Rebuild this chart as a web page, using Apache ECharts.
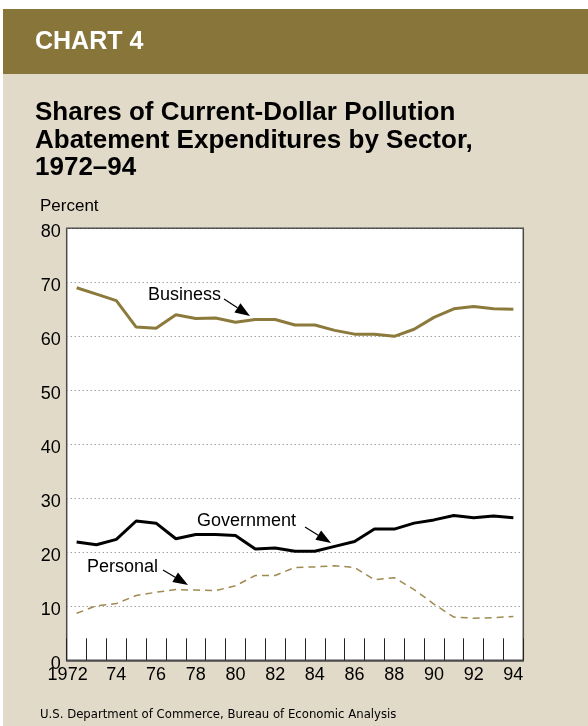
<!DOCTYPE html>
<html>
<head>
<meta charset="utf-8">
<script src="https://cdn.jsdelivr.net/npm/echarts@6/dist/echarts.min.js"></script>
<style>
html,body{margin:0;padding:0;background:#fff;}
#c{width:588px;height:726px;}
</style>
</head>
<body>
<div id="c"></div>
<script>
const years = ['1972','1973','1974','1975','1976','1977','1978','1979','1980','1981','1982','1983','1984','1985','1986','1987','1988','1989','1990','1991','1992','1993','1994'];
const business   = [69.0,67.8,66.6,61.7,61.5,64.0,63.3,63.4,62.6,63.1,63.1,62.1,62.1,61.1,60.4,60.4,60.0,61.3,63.5,65.1,65.5,65.1,65.0];
const government = [21.9,21.4,22.4,25.8,25.4,22.5,23.3,23.3,23.1,20.6,20.8,20.2,20.2,21.1,22.0,24.3,24.3,25.4,26.0,26.8,26.4,26.7,26.4];
const personal   = [8.7,10.1,10.5,12.0,12.6,13.1,13.0,12.9,13.8,15.7,15.7,17.2,17.3,17.5,17.2,14.9,15.3,13.1,10.4,8.0,7.8,7.9,8.1];
const xTickLabels = {'1972':'1972','1974':'74','1976':'76','1978':'78','1980':'80','1982':'82','1984':'84','1986':'86','1988':'88','1990':'90','1992':'92','1994':'94'};
const yTicks = [0,10,20,30,40,50,60,70,80];

const FONT = '"Liberation Sans", Arial, Helvetica, sans-serif';
const NARROW = '"Liberation Sans Narrow", "DejaVu Sans Condensed", "Liberation Sans", sans-serif';

function arrow(x1, y1, x2, y2) {
  const dx = x2 - x1, dy = y2 - y1, L = Math.sqrt(dx*dx + dy*dy);
  const ux = dx / L, uy = dy / L, nx = -uy, ny = ux;
  const hl = 15, hw = 5.5;
  const bx = x2 - hl * ux, by = y2 - hl * uy;
  return [
    {type:'line', shape:{x1:x1, y1:y1, x2:bx, y2:by}, style:{stroke:'#000', lineWidth:1.2}, z:100},
    {type:'polygon', shape:{points:[[x2,y2],[bx+hw*nx,by+hw*ny],[bx-hw*nx,by-hw*ny]]}, style:{fill:'#000'}, z:100}
  ];
}

const chart = echarts.init(document.getElementById('c'), null, {renderer:'canvas'});

const graphics = [
  {type:'rect', shape:{x:3, y:9, width:585, height:65}, style:{fill:'#877539'}, z:-10},
  {type:'rect', shape:{x:3, y:74, width:585, height:652}, style:{fill:'#e1dac9'}, z:-10},
  {type:'text', x:35, y:42.5, style:{text:'CHART 4', fill:'#fff', font:'bold 25px ' + FONT, verticalAlign:'middle'}},
  {type:'text', x:35, y:113, style:{text:'Shares of Current-Dollar Pollution', fill:'#000', font:'bold 26px ' + FONT, verticalAlign:'middle'}},
  {type:'text', x:35, y:140.5, style:{text:'Abatement Expenditures by Sector,', fill:'#000', font:'bold 26px ' + FONT, verticalAlign:'middle'}},
  {type:'text', x:35, y:168, style:{text:'1972\u201394', fill:'#000', font:'bold 26px ' + FONT, verticalAlign:'middle'}},
  {type:'text', x:40, y:206, style:{text:'Percent', fill:'#000', font:'17px ' + FONT, verticalAlign:'middle'}},
  {type:'text', x:40, y:715, style:{text:'U.S. Department of Commerce, Bureau of Economic Analysis', fill:'#000', font:'13px ' + NARROW, verticalAlign:'middle'}},
  {type:'text', x:148, y:295, style:{text:'Business', fill:'#000', font:'18px ' + FONT, verticalAlign:'middle'}, z:100},
  {type:'text', x:197, y:521.5, style:{text:'Government', fill:'#000', font:'18px ' + FONT, verticalAlign:'middle'}, z:100},
  {type:'text', x:87, y:567, style:{text:'Personal', fill:'#000', font:'18px ' + FONT, verticalAlign:'middle'}, z:100}
].concat(arrow(224, 299, 250, 316), arrow(305, 527, 331, 543), arrow(163, 570, 188, 585));

chart.setOption({
  animation: false,
  backgroundColor: 'transparent',
  grid: {left:66.7, top:228.3, width:456.6, height:432, show:true, backgroundColor:'#fff', borderColor:'#4a4a4a', borderWidth:1.5, containLabel:false},
  xAxis: {
    type:'category', data: years, boundaryGap:true,
    axisLine:{show:true, lineStyle:{color:'#4a4a4a', width:1.5}},
    axisTick:{show:true, inside:true, length:22, interval:0, lineStyle:{color:'#222', width:1}},
    axisLabel:{
      interval:0, margin:6, color:'#000', fontFamily:FONT, fontSize:18,
      formatter: function(v){ const t = xTickLabels[v]; if (!t) return ''; return v === '1972' ? '{f|' + t + '}' : t; },
      rich:{f:{fontFamily:FONT, fontSize:18, color:'#000', padding:[0,18,0,0]}}
    },
    splitLine:{show:false}
  },
  yAxis: {
    type:'value', min:0, max:80, interval:10,
    axisLine:{show:false}, axisTick:{show:false},
    axisLabel:{color:'#000', fontFamily:FONT, fontSize:18, margin:6,
      formatter: function(v){ return yTicks.indexOf(v) >= 0 ? '{a|' + v + '}' : ''; },
      rich:{a:{fontFamily:FONT, fontSize:18, color:'#000', padding:[7,0,0,0]}}},
    splitLine:{show:true, lineStyle:{color:'#777', width:1, type:[1,3]}}
  },
  series: [
    {name:'Business', type:'line', data:business, symbol:'none', smooth:false, lineStyle:{color:'#8b7a3b', width:3}, z:5},
    {name:'Government', type:'line', data:government, symbol:'none', smooth:false, lineStyle:{color:'#000', width:3}, z:5},
    {name:'Personal', type:'line', data:personal, symbol:'none', smooth:false, lineStyle:{color:'#a08a52', width:1.5, type:[7,5]}, z:5}
  ],
  graphic: graphics
});
</script>
</body>
</html>
